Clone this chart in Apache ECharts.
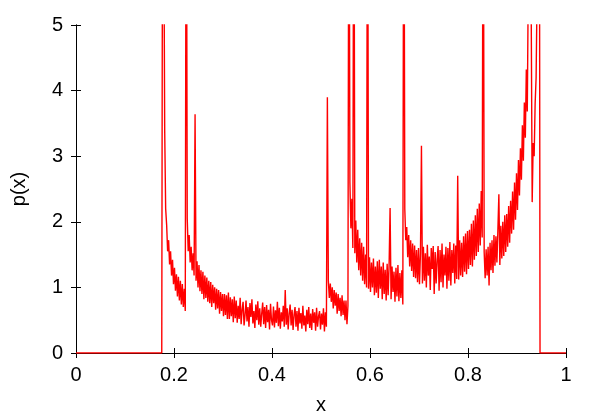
<!DOCTYPE html>
<html>
<head>
<meta charset="utf-8">
<script src="https://cdn.jsdelivr.net/npm/echarts@6/dist/echarts.min.js"></script>
<style>
html,body{margin:0;padding:0;background:#fff;}
#chart{width:600px;height:420px;}
</style>
</head>
<body>
<div id="chart"></div>
<script>
// x-axis and y-axis tick labels
const xTicks = [0, 0.2, 0.4, 0.6, 0.8, 1];
const yTicks = [0, 1, 2, 3, 4, 5];

// histogram bins: first listed bin centre, bin width
const firstBin = 0.175;
const binWidth = 0.002;

// zero density before the first listed bin and after the last one
const leftEdge = [[0, 0]];
const rightEdge = [[1, 0]];

// density p(x) per bin
const density = [
  0, 9, 7, 3.4, 2.2, 1.95, 1.55, 1.72, 1.35, 1.55,
  1.18, 1.42, 1.05, 1.3, 0.95, 1.2, 0.86, 1.16, 0.8, 1.1,
  0.74, 1.05, 0.7, 0.98, 0.64,
  9, 2.05, 1.55, 1.8, 1.38, 1.62, 1.26, 1.52, 1.18, 3.64,
  1.1, 1.4, 1.0, 1.34, 0.94, 1.26, 0.9, 1.24, 0.82, 1.18,
  0.84, 1.15, 0.78, 1.1, 0.76, 1.08, 0.7, 1.04, 0.76, 1.0,
  0.66, 0.98, 0.68, 0.96, 0.6, 0.93, 0.64, 0.9, 0.56, 0.9,
  0.58, 0.88, 0.52, 0.92, 0.52, 0.85, 0.56, 0.82, 0.47, 0.86,
  0.53,
  0.8, 0.46, 0.72, 0.52, 0.84, 0.44, 0.66, 0.78, 0.42, 0.58,
  0.8, 0.48, 0.7, 0.4, 0.76, 0.55, 0.82, 0.45, 0.64, 0.38,
  0.74, 0.5, 0.79, 0.43, 0.68, 0.4, 0.6, 0.77, 0.44, 0.7,
  0.38, 0.73, 0.47, 0.66, 0.36, 0.75, 0.5, 0.42, 0.71, 0.39,
  0.65, 0.46, 0.78, 0.41, 0.69, 0.37, 0.62, 0.48, 0.72, 0.4,
  0.96, 0.43, 0.68, 0.36, 0.6, 0.74, 0.42, 0.66, 0.35, 0.58,
  0.7, 0.4, 0.64, 0.34, 0.69, 0.45, 0.61, 0.37, 0.72, 0.42,
  0.57, 0.33, 0.66, 0.44, 0.7, 0.38, 0.6, 0.35, 0.67, 0.46,
  0.62, 0.34, 0.69, 0.4, 0.56, 0.64, 0.36, 0.6, 0.43, 0.68,
  0.33, 0.62, 0.4,
  3.9, 1.1, 0.84, 1.06, 0.78, 1.0, 0.68, 0.96, 0.72, 0.92,
  0.6, 0.9, 0.64, 0.84, 0.56, 0.88, 0.58, 0.8, 0.5, 0.8,
  0.44, 0.72,
  9, 2.6, 1.9, 2.35, 1.6, 9, 1.52, 2.02, 1.38, 1.88,
  1.26, 1.75, 1.18, 1.68, 1.1, 1.62, 1.05, 1.5, 1.0, 9,
  0.98, 1.46, 0.93, 1.38, 1.0, 1.44, 0.88, 1.32, 0.92, 1.4,
  0.84, 1.42, 0.98, 1.32, 0.82, 1.38, 0.9, 1.27, 0.8, 1.36,
  0.88, 1.34, 2.21, 0.82, 1.32, 0.93, 1.24, 0.78, 1.3, 0.86,
  1.34, 0.79, 1.22, 0.84, 1.26, 0.74,
  9, 2.2, 1.72, 1.92, 1.46, 1.8, 1.32, 1.72, 1.25, 1.67,
  1.16, 1.64, 1.14, 1.57, 1.08, 1.6, 1.05, 1.52, 3.16,
  1.06, 1.62, 1.1, 1.52, 1.0, 1.65, 1.18, 1.47, 0.96, 1.6,
  1.28, 1.63, 0.9, 1.54, 1.06, 1.42, 1.63, 0.95, 1.57, 1.08,
  1.67, 1.0, 1.5, 1.18, 1.62, 0.98, 1.6, 1.1, 1.69, 1.03,
  1.57, 1.22, 1.67, 1.06, 1.64, 1.13,
  2.7, 1.12, 1.72, 1.18, 1.68, 1.16, 1.78, 1.24, 1.82, 1.2,
  1.86, 1.28, 1.88, 1.34, 1.97, 1.32, 2.02, 1.42, 2.1, 1.48,
  2.2, 1.54, 2.28, 1.64, 2.47, 1.76, 9,
  1.54, 1.14, 1.58, 1.18, 1.62, 1.03, 1.68, 1.26, 1.72, 1.22,
  1.8, 1.33, 1.78, 1.38, 1.88, 2.42, 1.34, 1.94, 1.44, 2.0,
  1.48, 2.1, 1.54, 2.12, 1.62, 2.24, 1.68, 2.32, 1.82, 2.46,
  1.88, 2.6, 2.03, 2.74, 2.18, 2.94, 2.4, 3.12, 2.64, 3.47,
  2.93, 3.82, 3.28, 4.32, 3.68, 5.6, 5.3, 6.5, 5.2, 2.3,
  3.2, 3.0, 3.8, 4.2, 5.5, 6.5, 12, 0
];

const seriesData = leftEdge
  .concat(density.map((v, i) => [firstBin + i * binWidth, v]))
  .concat(rightEdge);

const FONT = '"Liberation Sans", Arial, Helvetica, sans-serif';
const chart = echarts.init(document.getElementById('chart'), null, {renderer: 'canvas'});

const tickStyle = {show: true, inside: true, length: 5, lineStyle: {color: '#000', width: 1}};
const axisLineStyle = {show: true, lineStyle: {color: '#000', width: 1}};

chart.setOption({
  animation: false,
  backgroundColor: '#fff',
  grid: {left: 76, right: 34, top: 25, bottom: 65, containLabel: false},
  xAxis: [
    {
      type: 'value', min: 0, max: 1, interval: 0.2, position: 'bottom',
      name: 'x', nameLocation: 'middle', nameGap: 42,
      nameTextStyle: {fontFamily: FONT, fontSize: 20, color: '#000'},
      axisLine: axisLineStyle, axisTick: tickStyle,
      axisLabel: {fontFamily: FONT, fontSize: 20, color: '#000', margin: 12,
        formatter: v => xTicks.includes(+v.toFixed(1)) ? String(+v.toFixed(1)) : ''},
      splitLine: {show: false}
    },
    {
      type: 'value', min: 0, max: 1, interval: 0.2, position: 'top',
      axisLine: axisLineStyle, axisTick: tickStyle,
      axisLabel: {show: false}, splitLine: {show: false}
    }
  ],
  yAxis: [
    {
      type: 'value', min: 0, max: 5, interval: 1, position: 'left',
      name: 'p(x)', nameLocation: 'middle', nameGap: 47, nameRotate: 90,
      nameTextStyle: {fontFamily: FONT, fontSize: 20, color: '#000'},
      axisLine: axisLineStyle, axisTick: tickStyle,
      axisLabel: {fontFamily: FONT, fontSize: 20, color: '#000', margin: 13,
        formatter: v => yTicks.includes(Math.round(v)) ? String(Math.round(v)) : ''},
      splitLine: {show: false}
    },
    {
      type: 'value', min: 0, max: 5, interval: 1, position: 'right',
      axisLine: axisLineStyle, axisTick: tickStyle,
      axisLabel: {show: false}, splitLine: {show: false}
    }
  ],
  series: [{
    type: 'line',
    xAxisIndex: 0, yAxisIndex: 0,
    data: seriesData,
    showSymbol: false, symbol: 'none',
    clip: true,
    sampling: null,
    lineStyle: {color: '#ff0000', width: 1.4},
    z: 1
  }]
});
</script>
</body>
</html>
